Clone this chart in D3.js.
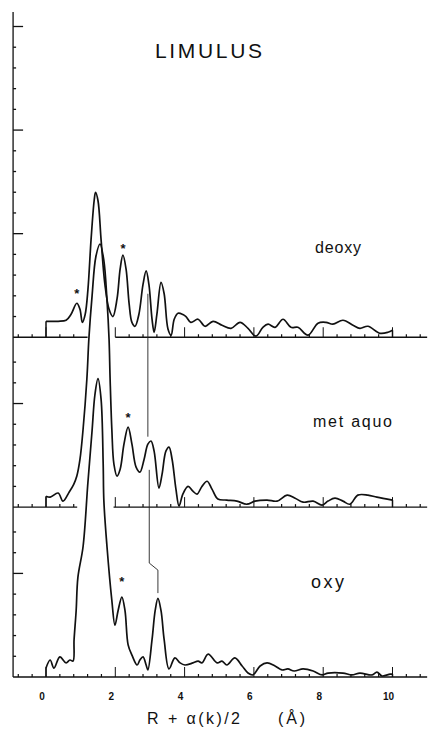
<!DOCTYPE html>
<html>
<head>
<meta charset="utf-8">
<script src="https://cdn.jsdelivr.net/npm/d3@7/dist/d3.min.js"></script>
<style>
body { margin: 0; background: #fff; }
text { font-family: "Liberation Sans", Arial, sans-serif; fill: #111; }
</style>
</head>
<body>
<div id="chart"></div>
<script>
// |FT| traces: R + a(k)/2 (A) and amplitude in tick units
var deoxyR = [0,0.35,0.58,0.72,0.89,0.98,1.05,1.13,1.21,1.3,1.39,1.43,1.5,1.59,1.7,1.82,1.93,2.05,2.14,2.22,2.31,2.4,2.48,2.57,2.68,2.8,2.89,2.97,3.06,3.12,3.2,3.32,3.41,3.52,3.61,3.7,3.81,3.95,4.04,4.18,4.39,4.59,4.82,5.08,5.34,5.6,5.83,6.06,6.26,6.41,6.61,6.84,7.07,7.27,7.56,7.85,8.08,8.28,8.57,8.86,9.06,9.29,9.64,9.87,10];
var deoxyAmp = [0.77,0.77,0.82,1.1,1.64,1.35,0.72,1.1,2.3,4.7,6.6,7.0,6.6,4.7,2.55,1.35,1.0,1.85,3.3,3.96,3.3,1.6,0.72,0.53,1.1,2.55,3.2,2.55,0.87,0.24,1.1,2.65,2.1,0.4,0.1,0.87,1.16,1.1,1.0,0.72,0.87,0.53,0.77,0.58,0.43,0.72,0.43,0.05,0.48,0.63,0.48,0.87,0.48,0.48,0.1,0.68,0.72,0.63,0.82,0.58,0.43,0.53,0.19,0.24,0.34];

var metR = [0,0.12,0.35,0.49,0.66,0.8,0.89,0.98,1.07,1.18,1.24,1.33,1.44,1.56,1.67,1.76,1.82,1.85,1.9,1.96,2.05,2.14,2.25,2.37,2.48,2.6,2.71,2.83,2.94,3.03,3.12,3.26,3.35,3.46,3.55,3.64,3.75,3.84,3.95,4.1,4.24,4.36,4.5,4.65,4.79,4.96,5.22,5.51,5.8,6.03,6.38,6.67,6.96,7.19,7.42,7.71,7.97,8.14,8.34,8.57,8.77,9.0,9.29,9.55,10];
var metAmp = [0.53,0.48,0.68,0.29,0.7,1.1,1.5,2.3,3.76,6.2,8.2,10.2,12.1,12.7,11.9,10.0,8.1,6.2,3.76,2.08,1.5,1.83,3.04,3.86,3.04,1.93,1.69,2.3,3.04,3.19,2.7,0.92,1.59,2.7,2.9,2.3,0.87,0.05,0.63,1.0,0.77,0.63,1.0,1.25,0.87,0.39,0.34,0.29,0.14,0.29,0.34,0.29,0.58,0.43,0.24,0.29,0.1,0.29,0.43,0.29,0.14,0.58,0.58,0.48,0.34];

var oxyR = [0,0.12,0.23,0.4,0.58,0.69,0.78,0.81,0.87,0.92,1.07,1.21,1.33,1.41,1.5,1.59,1.65,1.67,1.76,1.9,1.99,2.08,2.19,2.28,2.37,2.48,2.63,2.71,2.8,2.89,2.94,3.06,3.15,3.23,3.32,3.41,3.55,3.72,3.87,4.01,4.24,4.39,4.5,4.68,4.94,5.08,5.22,5.45,5.66,5.83,5.97,6.18,6.38,6.61,6.81,6.98,7.16,7.42,7.71,7.97,8.14,8.57,8.83,9.06,9.41,9.55,9.7,9.93,10];
var oxyAmp = [0.43,0.82,0.43,0.97,0.68,0.82,0.77,1.8,3.2,4.8,6.3,9.4,11.9,13.6,14.4,13.4,10.3,8.5,6.3,3.7,2.5,3.2,3.86,3.2,1.55,1.06,0.58,0.82,0.97,0.58,0.34,1.8,3.2,3.8,3.2,1.8,0.39,0.92,0.68,0.58,0.68,0.77,0.68,1.1,0.68,0.77,0.58,0.92,0.53,0.19,0.1,0.53,0.68,0.53,0.34,0.39,0.29,0.39,0.29,0.1,0.19,0.19,0.1,0.19,0.1,0.24,0.05,0.14,0.14];

// asterisks marking peaks [R, amplitude]
var deoxyStars = [[0.89, 2.22], [2.22, 4.39]];
var metStars = [[2.37, 4.44]];
var oxyStars = [[2.19, 4.73]];

// thin line following the outer shell peak, [R, height above oxy baseline]
var shiftLine1 = [[2.94, 18.5], [2.94, 11.6]];
var shiftLine2 = [[2.98, 10.0], [2.98, 5.5], [3.23, 5.16], [3.23, 4.05]];

var xTicks = [0, 2, 4, 6, 8, 10];
var xTickLabels = ["0", "2", "4", "6", "8", "10"];

var width = 429, height = 732;

var x = d3.scaleLinear().domain([0, 10]).range([46, 392.5]);
var y = d3.scaleLinear().domain([0, 32.1]).range([677, 12]);

var svg = d3.select("#chart").append("svg")
    .attr("width", width)
    .attr("height", height);

var panels = [
    {name: "deoxy", r: deoxyR, a: deoxyAmp, base: 16.4, ticks: 15, gap: [1.2, 2.0], stars: deoxyStars},
    {name: "met aquo", r: metR, a: metAmp, base: 8.2, ticks: 7, gap: [0.9, 1.95], stars: metStars},
    {name: "oxy", r: oxyR, a: oxyAmp, base: 0, ticks: 7, gap: null, stars: oxyStars}
];

var axisLeftR = -0.95, axisRightR = 11.0;

// left vertical axis
svg.append("line")
    .attr("x1", x(axisLeftR)).attr("x2", x(axisLeftR))
    .attr("y1", y(0)).attr("y2", y(32.1))
    .attr("stroke", "#111").attr("stroke-width", 1.3);

panels.forEach(function(p) {
    var g = svg.append("g").attr("class", "panel");

    // baseline, broken where the trace from below passes through
    var segs = p.gap ? [[axisLeftR, p.gap[0]], [p.gap[1], axisRightR]] : [[axisLeftR, axisRightR]];
    segs.forEach(function(s) {
        g.append("line")
            .attr("x1", x(s[0])).attr("x2", x(s[1]))
            .attr("y1", y(p.base)).attr("y2", y(p.base))
            .attr("stroke", "#111").attr("stroke-width", 1.3);
    });

    // ticks along the baseline every 0.4, long ones at even R
    d3.range(-2, 28).forEach(function(i) {
        var v = i * 0.4;
        if (p.gap && v > p.gap[0] && v < p.gap[1]) return;
        var major = (i % 5 === 0) && v >= 0 && v <= 10;
        g.append("line")
            .attr("x1", x(v)).attr("x2", x(v))
            .attr("y1", y(p.base)).attr("y2", y(p.base) - (major ? 10 : 3))
            .attr("stroke", "#111").attr("stroke-width", major ? 1 : 1.2);
    });

    // ticks on the left axis
    d3.range(1, p.ticks + 1).forEach(function(k) {
        var major = k % 5 === 0;
        g.append("line")
            .attr("x1", x(axisLeftR)).attr("x2", x(axisLeftR) + (major ? 10 : 3))
            .attr("y1", y(p.base + k)).attr("y2", y(p.base + k))
            .attr("stroke", "#111").attr("stroke-width", 1.3);
    });

    var pts = p.r.map(function(r, i) { return [r, p.a[i]]; });

    var line = d3.line()
        .x(function(d) { return x(d[0]); })
        .y(function(d) { return y(p.base + d[1]); })
        .curve(d3.curveCatmullRom.alpha(0.5));

    g.append("path")
        .attr("d", line(pts))
        .attr("fill", "none")
        .attr("stroke", "#111")
        .attr("stroke-width", 1.7)
        .attr("stroke-linejoin", "round");

    // vertical ends of the trace
    var first = pts[0], last = pts[pts.length - 1];
    [first, last].forEach(function(d) {
        g.append("line")
            .attr("x1", x(d[0])).attr("x2", x(d[0]))
            .attr("y1", y(p.base)).attr("y2", y(p.base + d[1]))
            .attr("stroke", "#111").attr("stroke-width", 1.5);
    });

    g.selectAll(".star")
        .data(p.stars)
        .enter().append("text")
        .attr("class", "star")
        .attr("x", function(d) { return x(d[0]); })
        .attr("y", function(d) { return y(p.base + d[1]) + 7; })
        .attr("text-anchor", "middle")
        .style("font-size", "13px")
        .style("font-weight", "bold")
        .text("*");
});

var thin = d3.line()
    .x(function(d) { return x(d[0]); })
    .y(function(d) { return y(d[1]); });

[shiftLine1, shiftLine2].forEach(function(s) {
    svg.append("path")
        .attr("d", thin(s))
        .attr("fill", "none")
        .attr("stroke", "#222")
        .attr("stroke-width", 0.9);
});

// x tick labels
svg.selectAll(".xlab")
    .data(xTicks)
    .enter().append("text")
    .attr("class", "xlab")
    .attr("x", function(d) { return x(d) - 4; })
    .attr("y", 700)
    .attr("text-anchor", "middle")
    .style("font-size", "10px")
    .style("font-weight", "bold")
    .text(function(d, i) { return xTickLabels[i]; });

// title and panel labels
svg.append("text")
    .attr("x", 155).attr("y", 58)
    .attr("textLength", 107).attr("lengthAdjust", "spacing")
    .style("font-size", "21px")
    .text("LIMULUS");

var labelPos = {"deoxy": [315, 253, 46, 16], "met aquo": [313, 427, 79, 16], "oxy": [311, 588, 33, 18]};
panels.forEach(function(p) {
    var lp = labelPos[p.name];
    svg.append("text")
        .attr("x", lp[0]).attr("y", lp[1])
        .attr("textLength", lp[2]).attr("lengthAdjust", "spacing")
        .style("font-size", lp[3] + "px")
        .text(p.name);
});

svg.append("text")
    .attr("x", 147).attr("y", 724)
    .attr("textLength", 93).attr("lengthAdjust", "spacing")
    .style("font-size", "16px")
    .text("R + \u03b1(k)/2");

svg.append("text")
    .attr("x", 278).attr("y", 724)
    .attr("textLength", 27).attr("lengthAdjust", "spacing")
    .style("font-size", "16px")
    .text("(\u00c5)");
</script>
</body>
</html>
